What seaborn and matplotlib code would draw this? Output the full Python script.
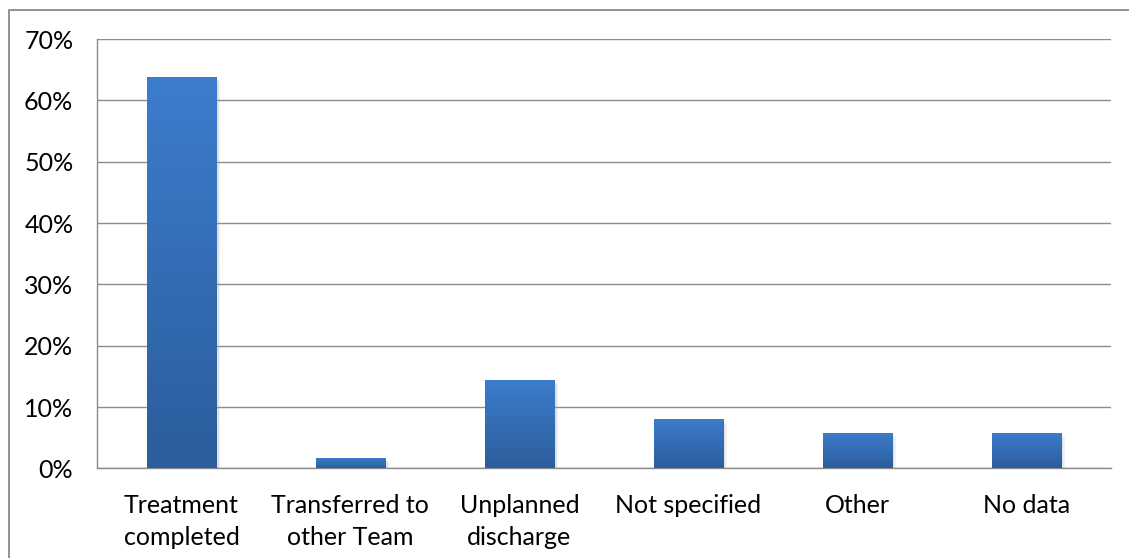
import numpy as np
import pandas as pd
import matplotlib
matplotlib.use("Agg")
import matplotlib.pyplot as plt
import matplotlib.patheffects as pe
from matplotlib.patches import Rectangle
from matplotlib.colors import LinearSegmentedColormap
import seaborn as sns

# Discharge outcome shares (percent)
categories = ["Treatment\ncompleted", "Transferred to\nother Team", "Unplanned\ndischarge",
              "Not specified", "Other", "No data"]
shares = [63.8, 1.7, 14.4, 8.0, 5.8, 5.8]
y_ticks = [0, 10, 20, 30, 40, 50, 60, 70]
y_tick_labels = ["0%", "10%", "20%", "30%", "40%", "50%", "60%", "70%"]

sns.set_theme(style="white")
plt.rcParams["font.family"] = ["Lato", "DejaVu Sans"]

df = pd.DataFrame({"category": categories, "share": shares})

fig = plt.figure(figsize=(11.29, 5.58), dpi=100)
ax = fig.add_axes([0.0859, 0.1604, 0.8979, 0.7697])

sns.barplot(data=df, x="category", y="share", ax=ax, color="#3A78C6",
            width=0.41, saturation=1, linewidth=0, zorder=3)

# vertical gradient (light top, dark bottom) plus a soft drop shadow on each bar
grad_cmap = LinearSegmentedColormap.from_list("bar", ["#2C5D9C", "#3C7DCD"])
grad = np.linspace(0, 1, 256).reshape(-1, 1)
for patch in ax.patches:
    patch.set_path_effects([
        pe.SimplePatchShadow(offset=(3.0, -3.0), shadow_rgbFace="#999999", alpha=0.12),
        pe.SimplePatchShadow(offset=(1.8, -1.8), shadow_rgbFace="#999999", alpha=0.18),
        pe.Normal()])
    x0, y0 = patch.get_x(), patch.get_y()
    w, h = patch.get_width(), patch.get_height()
    im = ax.imshow(grad, cmap=grad_cmap, origin="lower", aspect="auto",
                   extent=(x0, x0 + w, y0, y0 + h), zorder=4)
    im.set_clip_path(patch)

ax.set_xlim(-0.5, len(categories) - 0.5)
ax.set_ylim(0, 70)
ax.set_yticks(y_ticks)
ax.set_yticklabels(y_tick_labels)
ax.set_xlabel("")
ax.set_ylabel("")

grid_color = "#8C8C8C"
ax.yaxis.grid(True, color=grid_color, linewidth=1.0, zorder=0)
ax.set_axisbelow(True)
for side in ["top", "right"]:
    ax.spines[side].set_visible(False)
for side in ["left", "bottom"]:
    ax.spines[side].set_color(grid_color)
    ax.spines[side].set_linewidth(1.0)

# category boundary ticks on the x axis
ax.set_xticks(np.arange(len(categories)))
ax.set_xticks(np.arange(-0.5, len(categories)), minor=True)
ax.tick_params(axis="x", which="major", length=0, pad=18.5, labelsize=18, labelcolor="#000000")
ax.tick_params(axis="x", which="minor", length=6, width=1.0, color=grid_color, direction="out")
ax.tick_params(axis="y", length=6, width=1.0, color=grid_color, direction="out",
               pad=11, labelsize=18, labelcolor="#000000")
for lbl in ax.get_xticklabels():
    lbl.set_linespacing(1.45)
    lbl.set_horizontalalignment("center")

# outer chart frame
fig.patches.append(Rectangle((9 / 1129, -0.2), 1.2, 1.2 - 10 / 558,
                             transform=fig.transFigure, fill=False,
                             edgecolor="#8A8A8A", linewidth=1.3))

fig.savefig("out.png", dpi=100, facecolor="white")
